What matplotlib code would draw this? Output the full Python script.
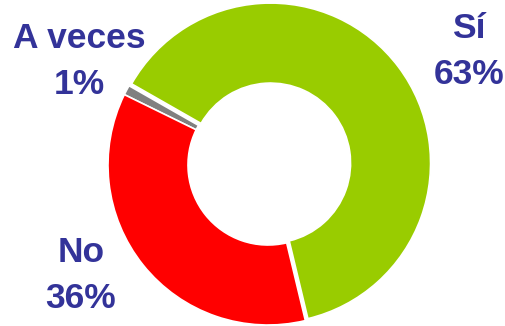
import matplotlib.pyplot as plt

# Data
labels = ['Sí', 'A veces', 'No']
values = [63, 1, 36]
colors = ['#99CC00', '#808080', '#FF0000']
explode = [0.02, 0, 0]

# label positions in pixels (x centre, y centre of first line)
label_pos = [(469, 28), (79, 38), (81, 252)]

W, H = 506, 326
fig = plt.figure(figsize=(W / 100, H / 100), dpi=100)

# donut centre (268, 165) px, radius 160 px
lim = 1.04
cx, cy, r = 268, 165, 160
size = 2 * lim * r
ax = fig.add_axes([(cx - size / 2) / W, (H - cy - size / 2) / H, size / W, size / H])

ax.pie(values, colors=colors, explode=explode, startangle=-76.5, counterclock=True,
       wedgeprops=dict(width=0.5, edgecolor='white', linewidth=1.2))
ax.set_xlim(-lim, lim)
ax.set_ylim(-lim, lim)
ax.set_aspect('equal')
ax.axis('off')

for lab, val, (px, py) in zip(labels, values, label_pos):
    fig.text(px / W, 1 - py / H, lab, ha='center', va='center', fontsize=25.5,
             fontweight='bold', color='#333399', family='Liberation Sans')
    fig.text(px / W, 1 - (py + 46) / H, f'{val}%', ha='center', va='center', fontsize=25.5,
             fontweight='bold', color='#333399', family='Liberation Sans')

plt.savefig('out.png', dpi=100)
